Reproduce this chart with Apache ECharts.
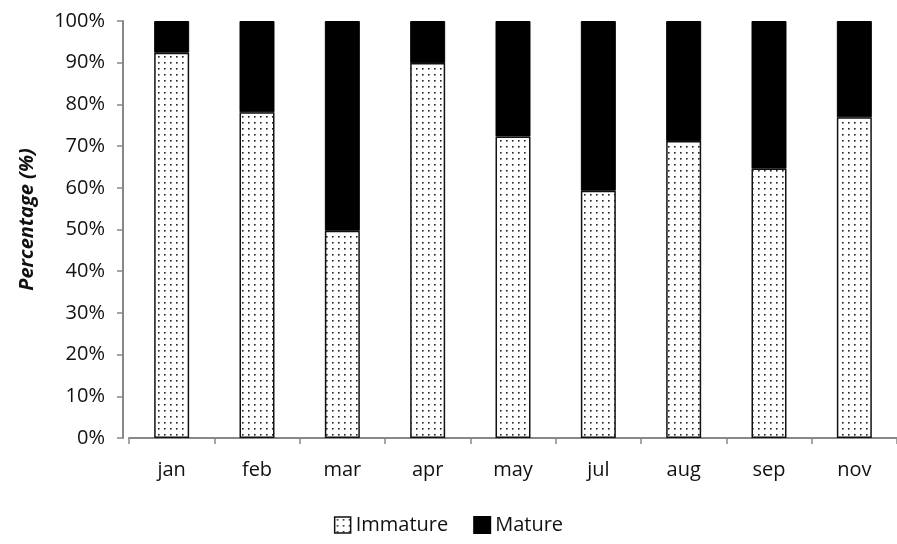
<!DOCTYPE html>
<html><head><meta charset="utf-8">
<script src="https://cdn.jsdelivr.net/npm/echarts@6/dist/echarts.min.js"></script>
<style>html,body{margin:0;padding:0;background:#fff}#c{width:897px;height:544px}</style>
</head><body><div id="c"></div>
<script>
const categories = ['jan','feb','mar','apr','may','jul','aug','sep','nov'];
const immature = [92.4, 78.1, 49.7, 89.9, 72.3, 59.3, 71.2, 64.6, 76.9];
const mature = [7.6, 21.9, 50.3, 10.1, 27.7, 40.7, 28.8, 35.4, 23.1];
const yTicks = [0,10,20,30,40,50,60,70,80,90,100];

function dotPattern(){
  const c = document.createElement('canvas');
  c.width = 6; c.height = 6;
  const g = c.getContext('2d');
  g.fillStyle = '#fff'; g.fillRect(0,0,6,6);
  g.fillStyle = '#222';
  g.fillRect(2,2,1.6,1.6);
  return c;
}
const pat = {image: dotPattern(), repeat: 'repeat'};

const chart = echarts.init(document.getElementById('c'), null, {renderer:'canvas'});
const font = '"Open Sans", Lato, sans-serif';
chart.setOption({
  animation:false,
  textStyle:{fontFamily:font},
  grid:{left:129, top:21, right:-8, bottom:106},
  legend:{
    bottom:4, left:'center', itemWidth:16, itemHeight:16, itemGap:25, icon:'rect',
    textStyle:{fontSize:20, color:'#111', fontFamily:font},
    data:[{name:'Immature', itemStyle:{color:pat, borderColor:'#111', borderWidth:1.5}},
          {name:'Mature', itemStyle:{color:'#000'}}]
  },
  xAxis:{
    type:'category', data:categories,
    axisLine:{lineStyle:{color:'#888', width:2}},
    axisTick:{show:true, alignWithLabel:false, length:6, lineStyle:{color:'#888', width:1.5}},
    axisLabel:{fontSize:20, color:'#111', margin:22, fontFamily:font}
  },
  yAxis:{
    type:'value', min:0, max:100, interval:10, offset:6,
    name:'Percentage (%)', nameLocation:'middle', nameGap:86,
    nameTextStyle:{fontSize:20, fontWeight:'bold', fontStyle:'italic', color:'#111', fontFamily:font, padding:[0,0,0,20]},
    axisLine:{show:true, lineStyle:{color:'#888', width:2}},
    axisTick:{show:true, length:6, lineStyle:{color:'#888', width:1.5}},
    splitLine:{show:false},
    axisLabel:{fontSize:20, color:'#111', margin:18, fontFamily:font,
      formatter: v => (yTicks.indexOf(v) >= 0 ? v + '%' : '')}
  },
  series:[
    {name:'Immature', type:'bar', stack:'t', data:immature, barWidth:'41%',
     itemStyle:{color:pat, borderColor:'#111', borderWidth:1.5}},
    {name:'Mature', type:'bar', stack:'t', data:mature,
     itemStyle:{color:'#000', borderColor:'#000', borderWidth:1}}
  ]
});
</script></body></html>
